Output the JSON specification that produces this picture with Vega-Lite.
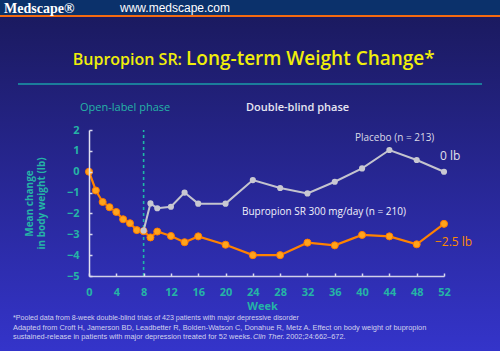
{
  "$schema": "https://vega.github.io/schema/vega-lite/v6.json",
  "width": 500,
  "height": 351,
  "autosize": {"type": "none"},
  "padding": 0,
  "background": "#24249a",
  "config": {"view": {"stroke": null}, "font": "Open Sans", "axis": {"grid": false, "zindex": 1, "labelOverlap": false, "labelFlush": false}},
  "datasets": {
    "weights": [
      {"series": "Bupropion SR", "week": 0, "change": 0},
      {"series": "Bupropion SR", "week": 1, "change": -0.9},
      {"series": "Bupropion SR", "week": 2, "change": -1.45},
      {"series": "Bupropion SR", "week": 3, "change": -1.7},
      {"series": "Bupropion SR", "week": 4, "change": -1.93},
      {"series": "Bupropion SR", "week": 5, "change": -2.28},
      {"series": "Bupropion SR", "week": 6, "change": -2.47},
      {"series": "Bupropion SR", "week": 7, "change": -2.8},
      {"series": "Bupropion SR", "week": 8, "change": -2.85},
      {"series": "Bupropion SR", "week": 9, "change": -3.15},
      {"series": "Bupropion SR", "week": 10, "change": -2.87},
      {"series": "Bupropion SR", "week": 12, "change": -3.08},
      {"series": "Bupropion SR", "week": 14, "change": -3.38},
      {"series": "Bupropion SR", "week": 16, "change": -3.1},
      {"series": "Bupropion SR", "week": 20, "change": -3.5},
      {"series": "Bupropion SR", "week": 24, "change": -4.0},
      {"series": "Bupropion SR", "week": 28, "change": -4.0},
      {"series": "Bupropion SR", "week": 32, "change": -3.4},
      {"series": "Bupropion SR", "week": 36, "change": -3.53},
      {"series": "Bupropion SR", "week": 40, "change": -3.03},
      {"series": "Bupropion SR", "week": 44, "change": -3.1},
      {"series": "Bupropion SR", "week": 48, "change": -3.48},
      {"series": "Bupropion SR", "week": 52, "change": -2.5},
      {"series": "Placebo", "week": 8, "change": -2.82},
      {"series": "Placebo", "week": 9, "change": -1.52},
      {"series": "Placebo", "week": 10, "change": -1.75},
      {"series": "Placebo", "week": 12, "change": -1.68},
      {"series": "Placebo", "week": 14, "change": -1.0},
      {"series": "Placebo", "week": 16, "change": -1.53},
      {"series": "Placebo", "week": 20, "change": -1.53},
      {"series": "Placebo", "week": 24, "change": -0.4},
      {"series": "Placebo", "week": 28, "change": -0.78},
      {"series": "Placebo", "week": 32, "change": -1.04},
      {"series": "Placebo", "week": 36, "change": -0.48},
      {"series": "Placebo", "week": 40, "change": 0.16},
      {"series": "Placebo", "week": 44, "change": 1.04},
      {"series": "Placebo", "week": 48, "change": 0.56},
      {"series": "Placebo", "week": 52, "change": 0.0}
    ]
  },
  "layer": [
    {
      "data": {"values": [{"part": "slide"}]},
      "mark": {"type": "rect", "color": {"gradient": "linear", "x1": 0, "y1": 0, "x2": 0, "y2": 1, "stops": [
        {"offset": 0, "color": "#0b316b"},
        {"offset": 0.0425, "color": "#0b316b"},
        {"offset": 0.043, "color": "#f46a10"},
        {"offset": 0.0485, "color": "#f46a10"},
        {"offset": 0.049, "color": "#1b1a60"},
        {"offset": 1, "color": "#3434ca"}
      ]}},
      "encoding": {}
    },
    {
      "data": {"name": "weights"},
      "transform": [{"filter": "datum.series == 'Bupropion SR'"}],
      "mark": {"type": "line", "color": "#ff8200", "strokeWidth": 2.2},
      "encoding": {
        "x": {"field": "week", "type": "quantitative",
          "scale": {"domain": [0, 52], "range": [89, 444], "nice": false, "zero": false},
          "axis": {"values": [0, 4, 8, 12, 16, 20, 24, 28, 32, 36, 40, 44, 48, 52], "tickCount": 30, "format": "d", "offset": -75,
            "title": "Week", "titleX": 262, "titleY": 30, "titleBaseline": "middle", "titleAngle": 0,
            "titleColor": "#25b4a6", "titleFont": "Open Sans", "titleFontSize": 11, "titleFontWeight": "bold",
            "labelColor": "#25b4a6", "labelFont": "Open Sans", "labelFontSize": 11, "labelFontWeight": "bold",
            "labelFlush": false, "labelOverlap": false, "labelPadding": 13, "tickSize": -3,
            "tickColor": "#d8d8ee", "tickWidth": 1.5, "domainColor": "#d0d0e8", "domainWidth": 1.5, "grid": false, "zindex": 1}},
        "y": {"field": "change", "type": "quantitative",
          "scale": {"domain": [-5, 2], "range": [276, 130], "nice": false, "zero": false},
          "axis": {"values": [-5, -4, -3, -2, -1, 0, 1, 2], "tickCount": 20, "format": "d", "offset": -89,
            "title": ["Mean change", "in body weight (lb)"], "titleX": -60, "titleY": 203, "titleBaseline": "middle", "titleAlign": "center", "titleAngle": -90, "titleLineHeight": 12,
            "titleColor": "#25b4a6", "titleFont": "Open Sans", "titleFontSize": 10, "titleFontWeight": "bold",
            "labelColor": "#25b4a6", "labelFont": "Open Sans", "labelFontSize": 11, "labelFontWeight": "bold",
            "labelFlush": false, "labelOverlap": false, "labelPadding": 13, "tickSize": -3,
            "tickColor": "#d8d8ee", "tickWidth": 1.5, "domainColor": "#e0e0f0", "domainWidth": 1.5, "grid": false, "zindex": 1}}
      }
    },
    {
      "data": {"values": [{"text": "Medscape®"}]},
      "mark": {"type": "text", "align": "left", "baseline": "alphabetic", "font": "Liberation Serif", "fontSize": 14, "fontWeight": "bold", "color": "#ffffff"},
      "encoding": {"x": {"datum": -12.45}, "y": {"datum": 7.61}, "text": {"field": "text"}}
    },
    {
      "data": {"values": [{"text": "www.medscape.com"}]},
      "mark": {"type": "text", "align": "left", "baseline": "alphabetic", "font": "Liberation Sans", "fontSize": 12, "color": "#ffffff"},
      "encoding": {"x": {"datum": 4.54}, "y": {"datum": 7.66}, "text": {"field": "text"}}
    },
    {
      "data": {"values": [{"text": "Bupropion SR:"}]},
      "mark": {"type": "text", "align": "right", "baseline": "alphabetic", "font": "Open Sans", "fontSize": 16, "fontWeight": 600, "color": "#f0ee0a"},
      "encoding": {"x": {"datum": 13.62}, "y": {"datum": 5.116}, "text": {"field": "text"}}
    },
    {
      "data": {"values": [{"text": "Long-term Weight Change*"}]},
      "mark": {"type": "text", "align": "left", "baseline": "alphabetic", "font": "Open Sans", "fontSize": 19, "fontWeight": 600, "color": "#f0ee0a"},
      "encoding": {"x": {"datum": 14.21}, "y": {"datum": 5.116}, "text": {"field": "text"}}
    },
    {
      "data": {"values": [{"part": "title rule"}]},
      "mark": {"type": "rule", "color": "#1a9ca8", "strokeWidth": 1.5},
      "encoding": {"x": {"datum": -10.4}, "x2": {"datum": 57.57}, "y": {"datum": 4.205}}
    },
    {
      "data": {"values": [{"text": "Open-label phase"}]},
      "mark": {"type": "text", "align": "left", "baseline": "middle", "font": "Open Sans", "fontSize": 11, "color": "#25b4a6"},
      "encoding": {"x": {"datum": -1.32}, "y": {"datum": 3.055}, "text": {"field": "text"}}
    },
    {
      "data": {"values": [{"text": "Double-blind phase"}]},
      "mark": {"type": "text", "align": "left", "baseline": "middle", "font": "Open Sans", "fontSize": 11, "fontWeight": 600, "color": "#e6e6f2"},
      "encoding": {"x": {"datum": 23.0}, "y": {"datum": 3.055}, "text": {"field": "text"}}
    },
    {
      "data": {"values": [{"part": "phase divider"}]},
      "mark": {"type": "rule", "color": "#1fb8a6", "strokeWidth": 1.6, "strokeDash": [3, 3]},
      "encoding": {"x": {"datum": 8}, "y": {"datum": -5}, "y2": {"datum": 2}}
    },
    {
      "data": {"name": "weights"},
      "transform": [{"filter": "datum.series == 'Bupropion SR'"}],
      "mark": {"type": "point", "filled": true, "size": 50, "color": "#ffa41c", "stroke": "#ff7a00", "strokeWidth": 1, "opacity": 1},
      "encoding": {"x": {"field": "week", "type": "quantitative"}, "y": {"field": "change", "type": "quantitative"}}
    },
    {
      "data": {"name": "weights"},
      "transform": [{"filter": "datum.series == 'Placebo'"}],
      "mark": {"type": "line", "color": "#c4c4ce", "strokeWidth": 2},
      "encoding": {"x": {"field": "week", "type": "quantitative"}, "y": {"field": "change", "type": "quantitative"}}
    },
    {
      "data": {"name": "weights"},
      "transform": [{"filter": "datum.series == 'Placebo'"}],
      "mark": {"type": "point", "filled": true, "size": 38, "color": "#c8c8d2", "opacity": 1},
      "encoding": {"x": {"field": "week", "type": "quantitative"}, "y": {"field": "change", "type": "quantitative"}}
    },
    {
      "data": {"values": [{"text": "Placebo (n = 213)"}]},
      "mark": {"type": "text", "align": "left", "baseline": "middle", "font": "Open Sans", "fontSize": 10, "color": "#dadae6"},
      "encoding": {"x": {"datum": 38.96}, "y": {"datum": 1.616}, "text": {"field": "text"}}
    },
    {
      "data": {"values": [{"text": "0 lb"}]},
      "mark": {"type": "text", "align": "left", "baseline": "middle", "font": "Open Sans", "fontSize": 12, "color": "#e0e0ea"},
      "encoding": {"x": {"datum": 51.41}, "y": {"datum": 0.753}, "text": {"field": "text"}}
    },
    {
      "data": {"values": [{"text": "Bupropion SR 300 mg/day (n = 210)"}]},
      "mark": {"type": "text", "align": "left", "baseline": "middle", "font": "Open Sans", "fontSize": 10, "color": "#f2f2fa"},
      "encoding": {"x": {"datum": 22.41}, "y": {"datum": -1.917}, "text": {"field": "text"}}
    },
    {
      "data": {"values": [{"text": "−2.5 lb"}]},
      "mark": {"type": "text", "align": "left", "baseline": "middle", "font": "Open Sans", "fontSize": 12, "color": "#ff8a00"},
      "encoding": {"x": {"datum": 50.68}, "y": {"datum": -3.355}, "text": {"field": "text"}}
    },
    {
      "data": {"values": [{"text": "*Pooled data from 8-week double-blind trials of 423 patients with major depressive disorder"}]},
      "mark": {"type": "text", "align": "left", "baseline": "middle", "font": "Liberation Sans", "fontSize": 7.1, "color": "#d2d2ee"},
      "encoding": {"x": {"datum": -11.13}, "y": {"datum": -7.0}, "text": {"field": "text"}}
    },
    {
      "data": {"values": [{"text": "Adapted from Croft H, Jamerson BD, Leadbetter R, Bolden-Watson C, Donahue R, Metz A. Effect on body weight of bupropion"}]},
      "mark": {"type": "text", "align": "left", "baseline": "middle", "font": "Liberation Sans", "fontSize": 7.4, "color": "#d2d2ee"},
      "encoding": {"x": {"datum": -11.13}, "y": {"datum": -7.508}, "text": {"field": "text"}}
    },
    {
      "data": {"values": [{"text": "sustained-release in patients with major depression treated for 52 weeks."}]},
      "mark": {"type": "text", "align": "left", "baseline": "middle", "font": "Liberation Sans", "fontSize": 7.4, "color": "#d2d2ee"},
      "encoding": {"x": {"datum": -11.13}, "y": {"datum": -7.901}, "text": {"field": "text"}}
    },
    {
      "data": {"values": [{"text": "Clin Ther."}]},
      "mark": {"type": "text", "align": "left", "baseline": "middle", "font": "Liberation Sans", "fontSize": 7.4, "fontStyle": "italic", "color": "#d2d2ee"},
      "encoding": {"x": {"datum": 24.02}, "y": {"datum": -7.901}, "text": {"field": "text"}}
    },
    {
      "data": {"values": [{"text": "2002;24:662–672."}]},
      "mark": {"type": "text", "align": "left", "baseline": "middle", "font": "Liberation Sans", "fontSize": 7.4, "color": "#d2d2ee"},
      "encoding": {"x": {"datum": 28.86}, "y": {"datum": -7.901}, "text": {"field": "text"}}
    }
  ]
}
